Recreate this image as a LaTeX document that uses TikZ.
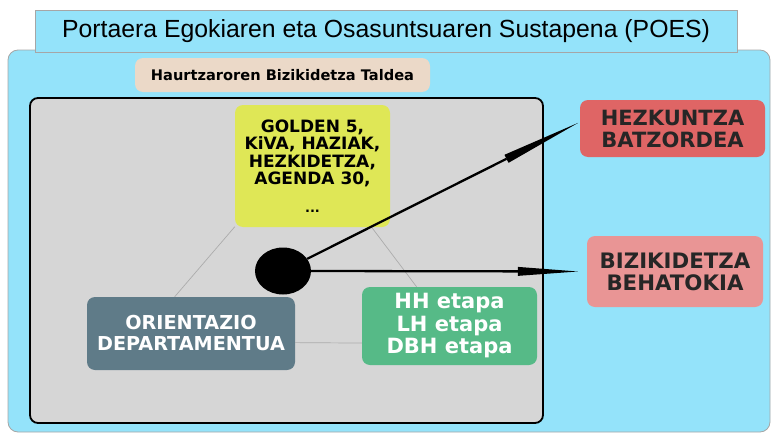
\documentclass[tikz,border=0pt]{standalone}
\usepackage{fontspec}
\setmainfont{DejaVu Sans}
\newfontfamily\titlefont{Liberation Sans}
\usetikzlibrary{arrows.meta,shapes.geometric}

\definecolor{poescyan}{HTML}{94E3FA}
\definecolor{taldebeige}{HTML}{EBD9C8}
\definecolor{innergray}{HTML}{D6D6D6}
\definecolor{progyellow}{HTML}{DFE756}
\definecolor{orientblue}{HTML}{5F7B88}
\definecolor{etapagreen}{HTML}{56BA87}
\definecolor{batzred}{HTML}{DF6565}
\definecolor{behapink}{HTML}{E99595}

\begin{document}
\begin{tikzpicture}[x=1pt, y=-1pt,
  box/.style={rounded corners=8pt, align=center, inner sep=0pt, font=\bfseries},
  link/.style={draw=gray!65, line width=0.7pt},
  arrow/.style={line width=2.3pt, -{Triangle[length=#1, width=9pt, line width=0pt]}}]

\useasboundingbox (0,0) rectangle (772,434);

\node [rounded corners=10pt, draw=gray!70, line width=0.8pt, fill=poescyan, minimum width=762pt, minimum height=382pt] (poes) at (389,241) {};
\node [draw=gray!70, line width=0.8pt, fill=poescyan, minimum width=702pt, minimum height=42pt, font=\titlefont\fontsize{24.8}{28}\selectfont] (title) at (386,31) {Portaera Egokiaren eta Osasuntsuaren Sustapena (POES)};
\node [box, fill=taldebeige, minimum width=295pt, minimum height=34pt, font=\bfseries\fontsize{14.6}{16}\selectfont] (talde) at (282.5,75) {Haurtzaroren Bizikidetza Taldea};
\node [rounded corners=8pt, draw=black, line width=1.8pt, fill=innergray, minimum width=513pt, minimum height=325pt] (ikastetxe) at (286.5,260.5) {};

\node [box, fill=progyellow, minimum width=155pt, minimum height=122pt, font=\bfseries\fontsize{17}{17.5}\selectfont] (yellow) at (312.5,166) {GOLDEN 5,\\KiVA, HAZIAK,\\HEZKIDETZA,\\AGENDA 30,\\[10pt]{\fontsize{13}{12}\selectfont ...}};
\node [box, fill=orientblue, text=white, minimum width=208pt, minimum height=73pt, font=\bfseries\fontsize{19.2}{21}\selectfont] (orient) at (191,333.5) {ORIENTAZIO\\DEPARTAMENTUA};
\node [box, fill=etapagreen, text=white, minimum width=175pt, minimum height=78pt, font=\bfseries\fontsize{21}{22.5}\selectfont] (green) at (449.5,326) {HH etapa\\LH etapa\\DBH etapa};
\node [ellipse, fill=black, minimum width=56pt, minimum height=47pt] (hub) at (283,271) {};

\node [box, fill=batzred, text=black!85, minimum width=185pt, minimum height=57pt, font=\bfseries\fontsize{21}{22}\selectfont] (hezk) at (672.5,128.5) {HEZKUNTZA\\BATZORDEA};
\node [box, fill=behapink, text=black!85, minimum width=176pt, minimum height=71pt, font=\bfseries\fontsize{21.3}{22}\selectfont] (bizi) at (675,271.5) {BIZIKIDETZA\\BEHATOKIA};

\draw [link] (yellow.218) -- (orient.114);
\draw [link] (yellow.314) -- (green.130);
\draw [link] (orient.355) -- (green.191);

\draw [arrow=80pt, shorten >=2pt] (hub) -- (hezk.176);
\draw [arrow=60pt, shorten >=9pt] (hub.east) -- (bizi.west);
\end{tikzpicture}
\end{document}
